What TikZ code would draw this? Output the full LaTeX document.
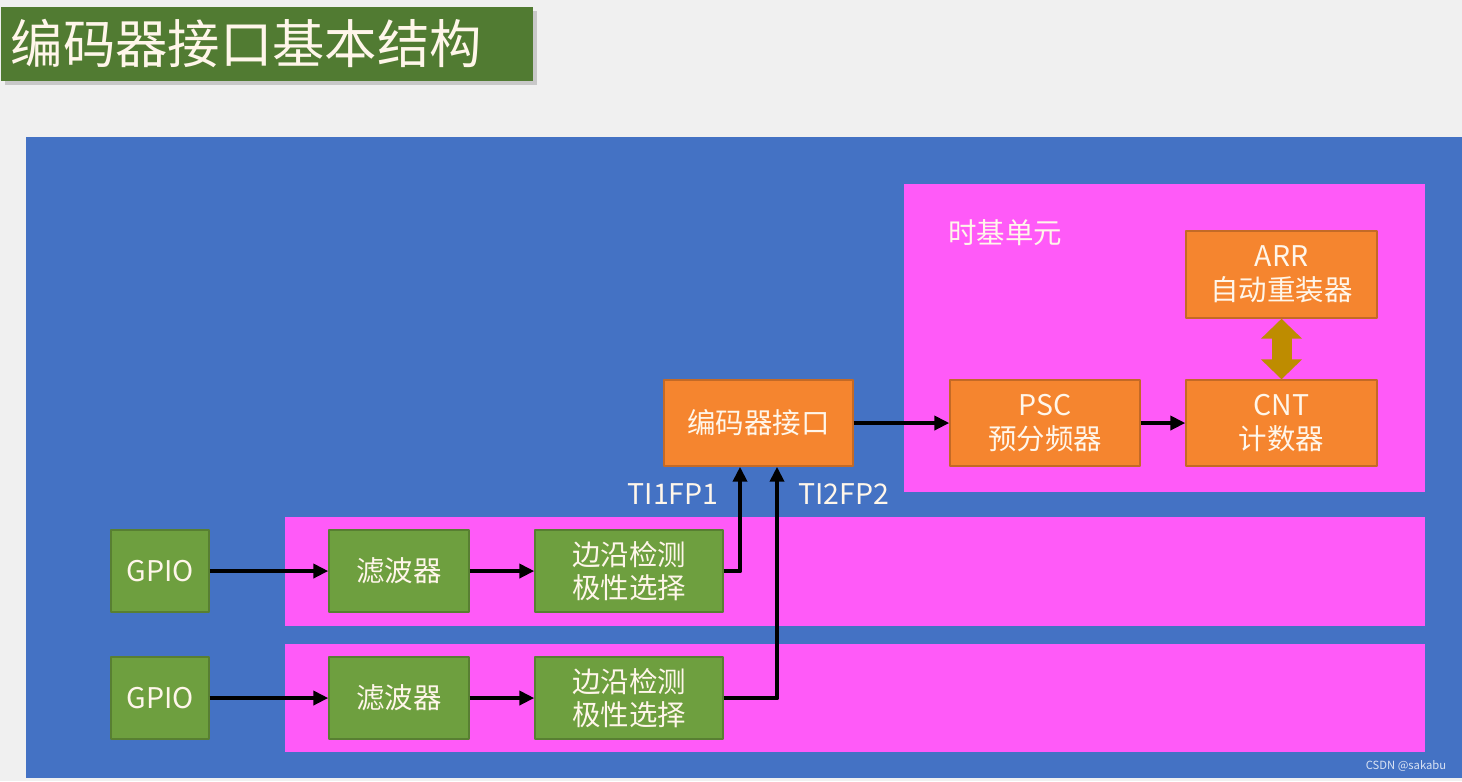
\documentclass[tikz,border=0pt]{standalone}
\usepackage{fontspec}
\setmainfont{Noto Sans CJK SC}
\usetikzlibrary{arrows.meta,shadows}
\definecolor{bggray}{HTML}{F0F0F0}
\definecolor{titlegreen}{HTML}{517B32}
\definecolor{panelblue}{HTML}{4472C4}
\definecolor{pink}{HTML}{FF5AF8}
\definecolor{boxorange}{HTML}{F5852F}
\definecolor{boxgreen}{HTML}{6E9F3F}
\definecolor{gold}{HTML}{BE8C00}
\definecolor{boxtext}{HTML}{FFF6EA}
\def\boxfont{\fontsize{8.1}{9.6}\selectfont}
\begin{document}
\begin{tikzpicture}[line join=round, >={Triangle[length=1.5mm,width=1.4mm]},
	orangebox/.style={fill=boxorange, draw=boxorange!80!black, line width=0.4pt, text=boxtext, minimum width=1.9cm, minimum height=0.86cm, inner sep=0pt, align=center, font=\boxfont},
	greenbox/.style={fill=boxgreen, draw=boxgreen!80!black, line width=0.4pt, text=boxtext, minimum height=0.82cm, inner sep=0pt, align=center, font=\boxfont},
	sig/.style={->, line width=1.4pt}]
	\fill[bggray] (0,0) rectangle (14.62,-7.81);
	\useasboundingbox (0,0) rectangle (14.62,-7.81);
	\node (title) [anchor=north west, fill=titlegreen, drop shadow={opacity=0.35, shadow xshift=0.04cm, shadow yshift=-0.04cm}, minimum height=0.74cm, text width=5.12cm, inner xsep=0.1cm, inner ysep=0pt, align=left, text=boxtext, font=\fontsize{14.9}{17}\selectfont] at (0,-0.06) {编码器接口基本结构};
	\fill[panelblue] (0.26,-1.37) rectangle (14.62,-7.78);
	\fill[pink] (9.04,-1.84) rectangle (14.25,-4.92);
	\fill[pink] (2.85,-5.17) rectangle (14.25,-6.26);
	\fill[pink] (2.85,-6.44) rectangle (14.25,-7.52);
	\node (tb) [text=boxtext, font=\boxfont] at (10.05,-2.33) {时基单元};
	\node (arr) [orangebox, minimum width=1.91cm, minimum height=0.87cm] at (12.815,-2.745) {ARR\\自动重装器};
	\node (cnt) [orangebox, minimum width=1.91cm] at (12.815,-4.23) {CNT\\计数器};
	\node (psc) [orangebox] at (10.45,-4.23) {PSC\\预分频器};
	\node (enc) [orangebox, minimum width=1.89cm] at (7.585,-4.23) {编码器接口};
	\node (gpio1) [greenbox, minimum width=0.98cm] at (1.60,-5.71) {GPIO};
	\node (filt1) [greenbox, minimum width=1.40cm] at (3.99,-5.71) {滤波器};
	\node (edge1) [greenbox, minimum width=1.88cm] at (6.29,-5.71) {边沿检测\\极性选择};
	\node (gpio2) [greenbox, minimum width=0.98cm] at (1.60,-6.98) {GPIO};
	\node (filt2) [greenbox, minimum width=1.40cm] at (3.99,-6.98) {滤波器};
	\node (edge2) [greenbox, minimum width=1.88cm] at (6.29,-6.98) {边沿检测\\极性选择};
	\node (ti1) [text=boxtext, font=\boxfont] at (6.73,-4.94) {TI1FP1};
	\node (ti2) [text=boxtext, font=\boxfont] at (8.435,-4.94) {TI2FP2};
	\draw[sig] (gpio1) -- (filt1);
	\draw[sig] (filt1) -- (edge1);
	\draw[sig] (gpio2) -- (filt2);
	\draw[sig] (filt2) -- (edge2);
	\draw[sig] (edge1.east) -| ([xshift=-1.85mm]enc.south);
	\draw[sig] (edge2.east) -| ([xshift=1.85mm]enc.south);
	\draw[sig] (enc) -- (psc);
	\draw[sig] (psc) -- (cnt);
	\draw[gold, line width=2mm, {Triangle[length=2mm,width=4mm]}-{Triangle[length=2mm,width=4mm]}] (arr.south) -- (cnt.north);
	\node (mark) [text=white!80!panelblue, font=\fontsize{3.2}{4}\selectfont, inner sep=0pt] at (14.06,-7.66) {CSDN @sakabu};
\end{tikzpicture}
\end{document}
